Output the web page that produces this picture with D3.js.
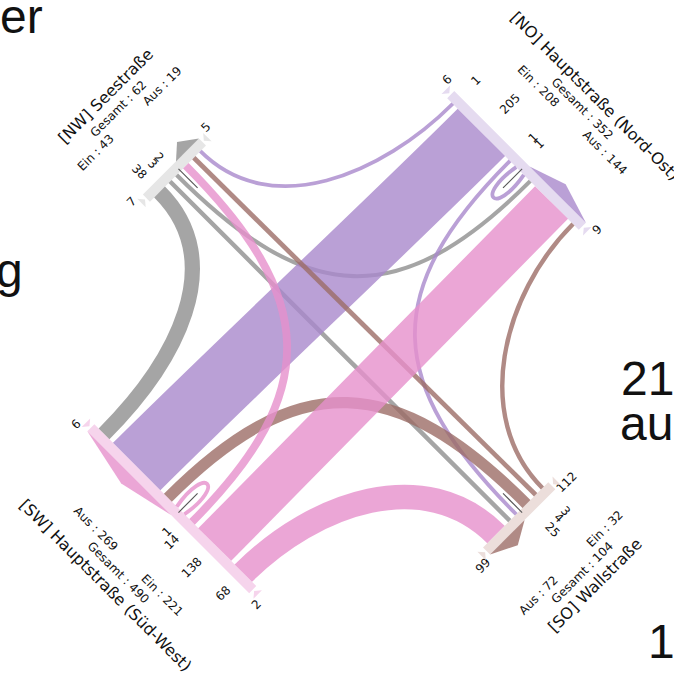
<!DOCTYPE html>
<html><head><meta charset="utf-8">
<script src="https://cdn.jsdelivr.net/npm/d3@7"></script>
<style>
body{margin:0;background:#fff;}
svg{display:block;}
.lbl{font-family:"DejaVu Sans",Verdana,sans-serif;fill:#111;}
.bg{font-family:"Liberation Sans",Arial,sans-serif;fill:#111;}
</style></head><body>
<svg id="chart" width="674" height="675"></svg>
<script>
// ---------------- data ----------------
const armTitles = ["[NW] Seestraße", "[NO] Hauptstraße (Nord-Ost)", "[SO] Wallstraße", "[SW] Hauptstraße (Süd-West)"];
// vehicles entering from each arm: [right turn, straight, left turn, U-turn]
const einNW = [38, 3, 2, 0];
const einNO = [1, 205, 1, 1];
const einSO = [3, 4, 25, 0];
const einSW = [68, 138, 14, 1];
// numbers at the two ends of each arm bar: [Ein end, Aus end]
const endNW = [7, 5];
const endNO = [6, 9];
const endSO = [112, 99];
const endSW = [2, 6];
// page text fragments around the chart
const bgTexts = ["er", "g", "21", "au", "1"];

const flowColors = ["#8f8f8f", "#a988cc", "#9c6d66", "#e690cc"];
const barColors = ["#e6e6e6", "#e5dbf0", "#ecdedb", "#f6d4ec"];

// ---------------- layout ----------------
const svg = d3.select("#chart");
const cx = 350.3, cy = 340.7;
const R = 250, barThick = 10, rEnd = R - barThick;
const gap = 5, axisGap = 7, margin = 6;
const wScale = d3.scaleLinear().domain([0, 205]).range([3.5, 3.5 + 0.31 * 205]);
const bw = v => v > 0 ? wScale(v) : 0;

const ein = [einNW, einNO, einSO, einSW];
const ends = [endNW, endNO, endSO, endSW];
const O = [[0, -1], [1, 0], [0, 1], [-1, 0]];   // outward
const T = [[-1, 0], [0, -1], [1, 0], [0, 1]];   // along bar, toward Ein side
const destOf = (i, k) => (i + [3, 2, 1, 0][k]) % 4;
const ausVals = j => [ein[j][3], ein[(j + 3) % 4][2], ein[(j + 2) % 4][1], ein[(j + 1) % 4][0]];

const einPos = [], ausPos = [], einExt = [], ausExt = [];
ein.forEach((vals, i) => {
  let c = axisGap / 2; einPos[i] = [];
  [3, 2, 1, 0].forEach(k => { const w = bw(vals[k]); if (w > 0) { einPos[i][k] = c + w / 2; c += w + gap; } else einPos[i][k] = null; });
  einExt[i] = c - gap;
  let a = axisGap / 2; ausPos[i] = [];
  ausVals(i).forEach((v, s) => { const w = bw(v); if (w > 0) { ausPos[i][s] = -(a + w / 2); a += w + gap; } else ausPos[i][s] = null; });
  ausExt[i] = a - gap;
});

const pt = (i, r, s) => [O[i][0] * r + T[i][0] * s, O[i][1] * r + T[i][1] * s];
const add = (p, q, f) => [p[0] + q[0] * f, p[1] + q[1] * f];

const g = svg.append("g").attr("transform", `translate(${cx},${cy}) rotate(-45)`);
const gBars = g.append("g");
const gFlows = g.append("g");
const gTop = g.append("g");

// bars
ein.forEach((vals, i) => {
  const a0 = -(ausExt[i] + margin), a1 = einExt[i] + margin;
  const poly = [pt(i, R - barThick, a0), pt(i, R, a0), pt(i, R, a1), pt(i, R - barThick, a1)];
  gBars.append("path").attr("d", d3.line()(poly)).attr("fill", barColors[i]);
});

// flows
const kTurn = [100, 120, 185];
ein.forEach((vals, i) => {
  vals.forEach((v, k) => {
    if (v <= 0) return;
    const j = destOf(i, k);
    const P = pt(i, rEnd, einPos[i][k]);
    const Q = pt(j, rEnd, ausPos[j][3 - k]);
    const p = d3.path();
    p.moveTo(P[0], P[1]);
    let c1, c2;
    if (k === 3) {
      c1 = add(add(P, O[i], -50), T[i], 9);
      c2 = add(add(Q, O[i], -50), T[i], -9);
    } else {
      c1 = add(P, O[i], -kTurn[k]);
      c2 = add(Q, O[j], -kTurn[k]);
    }
    p.bezierCurveTo(c1[0], c1[1], c2[0], c2[1], Q[0], Q[1]);
    gFlows.append("path").attr("d", p.toString())
      .attr("fill", "none").attr("stroke", flowColors[i])
      .attr("stroke-width", bw(v)).attr("stroke-opacity", 0.8);
  });
});

// arrows (Aus side), separators, labels
const isNS = i => i % 2 === 0;
ein.forEach((vals, i) => {
  const a0 = -(ausExt[i] + margin);
  const chev = [pt(i, R, -axisGap / 2), pt(i, R + 13, a0 / 2), pt(i, R, a0)];
  gTop.append("path").attr("d", d3.line()(chev) + "Z").attr("fill", flowColors[i]).attr("fill-opacity", 0.8);
  const s0 = pt(i, rEnd + 3, 0), s1 = pt(i, rEnd - 24, 0);
  gTop.append("line").attr("x1", s0[0]).attr("y1", s0[1]).attr("x2", s1[0]).attr("y2", s1[1])
    .attr("stroke", "#555").attr("stroke-width", 1.1);

  const rot = isNS(i) ? 90 : 0;
  const anchor = (i === 0 || i === 3) ? "end" : "start";
  const rLab = anchor === "start" ? R + 19 : R + 11;
  vals.forEach((v, k) => {
    if (v <= 0) return;
    const p = pt(i, rLab, einPos[i][k]);
    gTop.append("text").attr("class", "lbl").attr("font-size", 12)
      .attr("transform", `translate(${p[0]},${p[1]}) rotate(${rot})`)
      .attr("text-anchor", anchor).attr("dominant-baseline", "central").text(v);
  });
  // end numbers with small markers
  const eEnds = [einExt[i] + margin, -(ausExt[i] + margin)];
  eEnds.forEach((e, m) => {
    const dir = m === 0 ? 1 : -1;
    const tp = pt(i, R + 3, e + dir * 13);
    gTop.append("text").attr("class", "lbl").attr("font-size", 12)
      .attr("transform", `translate(${tp[0]},${tp[1]})`)
      .attr("text-anchor", "middle").attr("dominant-baseline", "central").text(ends[i][m]);
    const tri = [pt(i, R - 5, e + dir * 2), pt(i, R + 1, e + dir * 7), pt(i, R - 11, e + dir * 7)];
    gTop.append("path").attr("d", d3.line()(tri) + "Z").attr("fill", barColors[i]);
  });
  // title block
  const rb = isNS(i) ? 0 : 90;
  const einSum = d3.sum(vals), ausSum = d3.sum(ausVals(i));
  const block = [
    { r: 313, s: 47, t: "Ein : " + einSum, f: 12 },
    { r: 313, s: -47, t: "Aus : " + ausSum, f: 12 },
    { r: 328, s: 0, t: "Gesamt : " + (einSum + ausSum), f: 12 },
    { r: 346, s: 0, t: armTitles[i], f: 16 }
  ];
  block.forEach(b => {
    const p = pt(i, b.r, b.s);
    gTop.append("text").attr("class", "lbl").attr("font-size", b.f)
      .attr("transform", `translate(${p[0]},${p[1]}) rotate(${rb})`)
      .attr("text-anchor", "middle").attr("dominant-baseline", "central").text(b.t);
  });
});

// page fragments
const bgPos = [[0, 33], [-4, 287], [621, 395], [620, 440], [648, 658]];
bgTexts.forEach((t, n) => {
  svg.append("text").attr("class", "bg").attr("font-size", 48)
    .attr("x", bgPos[n][0]).attr("y", bgPos[n][1]).text(t);
});
</script>
</body></html>
